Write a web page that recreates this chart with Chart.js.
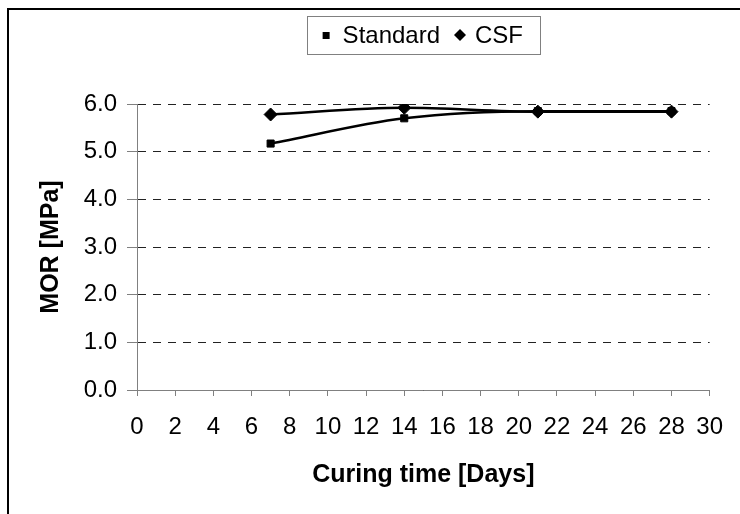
<!DOCTYPE html>
<html>
<head>
<meta charset="utf-8">
<script src="https://cdn.jsdelivr.net/npm/chart.js@4/dist/chart.umd.min.js"></script>
<style>
  html, body { margin: 0; padding: 0; background: #fff; }
  #wrap { width: 740px; height: 514px; }
</style>
</head>
<body>
<div id="wrap"><canvas id="morChart" width="740" height="514"></canvas></div>
<script>
// valores (MOR em MPa)
var diasCura = [7, 14, 21, 28];
var morStandard = [5.17, 5.70, 5.85, 5.85];
var morCSF = [5.78, 5.92, 5.84, 5.84];
var nomesSeries = ['Standard', 'CSF'];
var ticksX = [0, 2, 4, 6, 8, 10, 12, 14, 16, 18, 20, 22, 24, 26, 28, 30];
var ticksY = [0, 1, 2, 3, 4, 5, 6];

var fonte = '"Liberation Sans", Arial, sans-serif';

function pontos(xs, ys) {
    return xs.map(function (x, i) { return { x: x, y: ys[i] }; });
}

// moldura do gráfico (só aparecem as bordas esquerda e de cima)
var moldura = {
    id: 'moldura',
    beforeDraw: function (chart) {
        var ctx = chart.ctx;
        ctx.save();
        ctx.fillStyle = '#fff';
        ctx.fillRect(0, 0, chart.width, chart.height);
        ctx.strokeStyle = '#000';
        ctx.lineWidth = 2;
        ctx.strokeRect(8, 9, 800, 600);
        ctx.restore();
    }
};

// legenda desenhada à mão, com caixa em volta
var legendaCaixa = {
    id: 'legendaCaixa',
    afterDraw: function (chart) {
        var ctx = chart.ctx;
        var area = chart.chartArea;
        ctx.save();
        ctx.font = '24px ' + fonte;
        var w0 = ctx.measureText(nomesSeries[0]).width;
        var w1 = ctx.measureText(nomesSeries[1]).width;
        var total = 18 + w0 + 16 + 18 + w1;
        var cx = (area.left + area.right) / 2;
        var boxW = total + 36;
        var left = cx - boxW / 2;
        var top = 16, h = 38;
        ctx.strokeStyle = '#808080';
        ctx.lineWidth = 1;
        ctx.strokeRect(Math.round(left) + 0.5, top + 0.5, Math.round(boxW), h);
        var y = top + h / 2;
        var x = left + 19;
        ctx.fillStyle = '#000';
        // quadrado
        ctx.fillRect(x - 3, y - 3, 7, 7);
        ctx.textBaseline = 'middle';
        ctx.fillText(nomesSeries[0], x + 17, y + 1);
        x = x + 17 + w0 + 20;
        // losango
        ctx.beginPath();
        ctx.moveTo(x, y - 6);
        ctx.lineTo(x + 6, y);
        ctx.lineTo(x, y + 6);
        ctx.lineTo(x - 6, y);
        ctx.closePath();
        ctx.fill();
        ctx.fillText(nomesSeries[1], x + 15, y + 1);
        ctx.restore();
    }
};

var grafico = new Chart(document.getElementById('morChart'), {
    type: 'line',
    data: {
        datasets: [{
            label: nomesSeries[0],
            data: pontos(diasCura, morStandard),
            borderColor: '#000',
            backgroundColor: '#000',
            borderWidth: 2.5,
            pointStyle: 'rect',
            pointRadius: 5,
            pointBorderWidth: 1,
            cubicInterpolationMode: 'monotone',
            order: 1
        }, {
            label: nomesSeries[1],
            data: pontos(diasCura, morCSF),
            borderColor: '#000',
            backgroundColor: '#000',
            borderWidth: 2.5,
            pointStyle: 'rectRot',
            pointRadius: 6.5,
            pointBorderWidth: 1,
            cubicInterpolationMode: 'monotone',
            order: 0
        }]
    },
    options: {
        responsive: false,
        animation: false,
        layout: { padding: { left: 10, right: 30, top: 104, bottom: 0 } },
        plugins: {
            legend: { display: false },
            tooltip: { enabled: false }
        },
        scales: {
            x: {
                type: 'linear',
                min: 0,
                max: 30,
                afterBuildTicks: function (scale) {
                    scale.ticks = ticksX.map(function (v) { return { value: v }; });
                },
                afterFit: function (scale) { scale.height = 124; },
                border: { display: true, color: '#808080', width: 1 },
                grid: {
                    drawOnChartArea: false,
                    drawTicks: true,
                    tickLength: 6,
                    tickColor: '#808080'
                },
                ticks: {
                    color: '#000',
                    font: { family: fonte, size: 24 },
                    padding: 17,
                    maxRotation: 0,
                    autoSkip: false
                },
                title: {
                    display: true,
                    text: 'Curing time [Days]',
                    color: '#000',
                    font: { family: fonte, size: 25, weight: 'bold' },
                    padding: { top: 4, bottom: 24 }
                }
            },
            y: {
                min: 0,
                max: 6,
                afterBuildTicks: function (scale) {
                    scale.ticks = ticksY.map(function (v) { return { value: v }; });
                },
                afterFit: function (scale) { scale.width = 127; },
                border: { display: true, color: '#808080', width: 1, dash: [8, 7] },
                grid: {
                    color: '#222',
                    lineWidth: 1,
                    tickLength: 10,
                    tickColor: '#808080',
                    tickBorderDash: []
                },
                ticks: {
                    color: '#000',
                    font: { family: fonte, size: 24 },
                    padding: 10,
                    callback: function (v) { return Number(v).toFixed(1); }
                },
                title: {
                    display: true,
                    text: 'MOR [MPa]',
                    color: '#000',
                    font: { family: fonte, size: 25, weight: 'bold' },
                    padding: { top: 26, bottom: 0 }
                }
            }
        }
    },
    plugins: [moldura, legendaCaixa]
});
</script>
</body>
</html>
